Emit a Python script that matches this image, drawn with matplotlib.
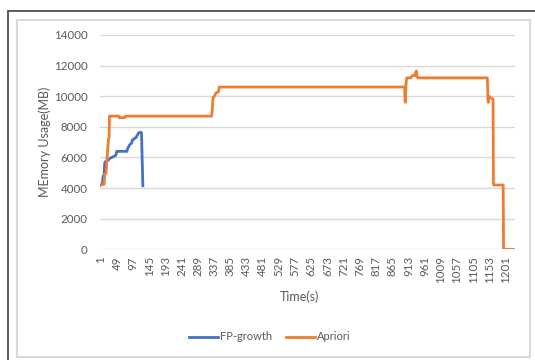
import matplotlib
matplotlib.use('Agg')
import matplotlib.pyplot as plt
from matplotlib.lines import Line2D
from matplotlib.patches import Rectangle

# memory samples per second (breakpoints of the logged curves)
fp_time = [1, 6, 8, 11, 13, 16, 22, 29, 33, 39, 46, 49, 79, 81, 83, 86, 88, 93, 95, 100,
           101, 106, 108, 111, 113, 120, 122, 126]
fp_mem = [4200, 4250, 4750, 4800, 5650, 5750, 5800, 5950, 6000, 6050, 6150, 6400, 6400,
          6600, 6650, 6800, 6850, 6950, 7150, 7200, 7250, 7300, 7400, 7500, 7600, 7650,
          7600, 4150]

ap_time = [1, 11, 13, 17, 20, 24, 26, 27, 54, 56, 72, 74, 330, 332, 334, 338, 342, 350, 352,
           902, 903, 904, 906, 908, 920, 925, 932, 935, 937, 939, 941, 1147, 1149, 1150,
           1152, 1156, 1164, 1165, 1166, 1194, 1195, 1229]
ap_mem = [4200, 4250, 4900, 5000, 6000, 7200, 7300, 8700, 8700, 8600, 8600, 8700, 8700,
          9200, 9900, 10000, 10200, 10300, 10600, 10600, 9700, 9600, 10800, 11200, 11200,
          11350, 11350, 11600, 11650, 11250, 11200, 11200, 9700, 9600, 10000, 9900, 9800,
          4300, 4200, 4200, 0, 0]

xticks = list(range(1, 1202, 48))
yticks = list(range(0, 14001, 2000))

blue = '#4472C4'
orange = '#ED7D31'
grey = '#595959'

plt.rcParams['font.family'] = ['Lato', 'DejaVu Sans']

fig = plt.figure(figsize=(5.35, 3.6), dpi=100)
fig.patch.set_facecolor('white')

# outer dark frame and light chart-area border
fig.patches.append(Rectangle((7.5 / 535, -0.1), 1.2, 1 - 11 / 360 + 0.1,
                             transform=fig.transFigure, fill=False,
                             edgecolor='#404040', linewidth=1.2))
fig.patches.append(Rectangle((17 / 535, 1 - 357 / 360), (530 - 17) / 535, (357 - 20) / 360,
                             transform=fig.transFigure, fill=False,
                             edgecolor='#d9d9d9', linewidth=1.5))

ax = fig.add_axes([100 / 535, 1 - 249.3 / 360, 415 / 535, (249.3 - 35) / 360])
ax.plot(fp_time, fp_mem, color=blue, linewidth=2, solid_joinstyle='round')
ax.plot(ap_time, ap_mem, color=orange, linewidth=2, solid_joinstyle='round')

ax.set_xlim(-1, 1229)
ax.set_ylim(0, 14000)
ax.set_xticks(xticks)
ax.set_xticklabels([str(t) for t in xticks], rotation=90)
ax.set_yticks(yticks)
ax.tick_params(axis='both', length=0, labelsize=8.3, colors=grey)
ax.tick_params(axis='x', pad=5)
ax.tick_params(axis='y', pad=9)
ax.grid(axis='y', color='#d9d9d9', linewidth=1)
ax.set_axisbelow(True)
for s in ax.spines.values():
    s.set_visible(False)

ax.set_ylabel('MEmory Usage(MB)', fontsize=9, color=grey, labelpad=2)
fig.text(300 / 535, 1 - 297 / 360, 'Time(s)', fontsize=9, color=grey,
         ha='center', va='center')

handles = [Line2D([], [], color=blue, linewidth=2),
           Line2D([], [], color=orange, linewidth=2)]
fig.legend(handles, ['FP-growth', 'Apriori'], loc='center',
           bbox_to_anchor=(270 / 535, 1 - 337 / 360), ncol=2, frameon=False,
           fontsize=8, handlelength=2.6, handletextpad=0.2, columnspacing=1.2,
           labelcolor=grey)

fig.savefig('out.png', dpi=100)
